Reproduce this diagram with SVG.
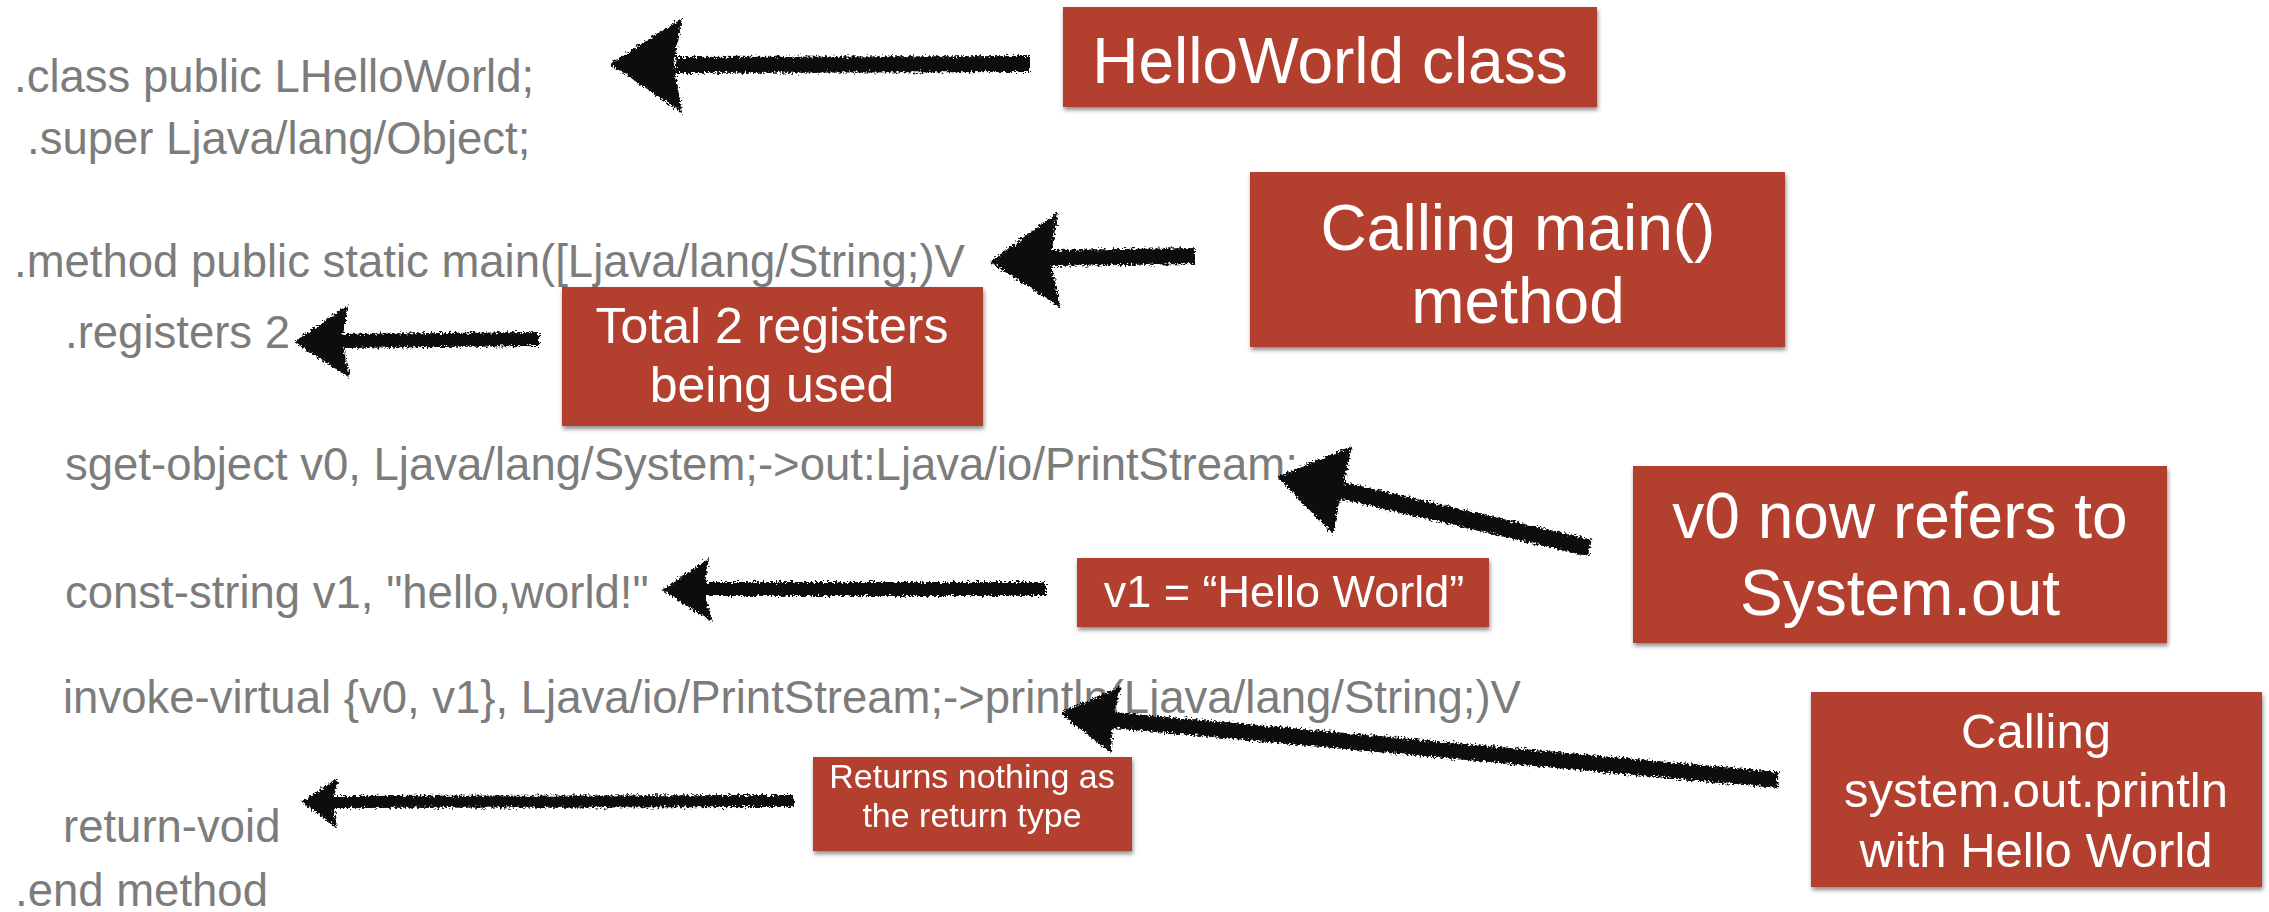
<svg xmlns="http://www.w3.org/2000/svg" width="2269" height="912" viewBox="0 0 2269 912">
<style>
.code{font-family:"Liberation Sans",Arial,Helvetica,sans-serif;font-size:45.5px;fill:#7c7c7c}
.box{fill:#b3412f}
.lbl{font-family:"Liberation Sans",Arial,Helvetica,sans-serif;fill:#ffffff;text-anchor:middle}
.shaft{fill:none;stroke:#0a0a0a;stroke-linecap:butt}
.head{fill:#0a0a0a}
</style>
<defs>
<filter id="rough" x="-10%" y="-30%" width="120%" height="160%">
<feTurbulence type="fractalNoise" baseFrequency="0.45" numOctaves="2" seed="3" result="n"/>
<feDisplacementMap in="SourceGraphic" in2="n" scale="8" xChannelSelector="R" yChannelSelector="G"/>
</filter>
<filter id="shadow" x="-5%" y="-10%" width="110%" height="130%">
<feDropShadow dx="1" dy="3" stdDeviation="2" flood-color="#000" flood-opacity="0.45"/>
</filter>
</defs>
<rect width="2269" height="912" fill="#ffffff"/>

<g id="code-class"><text class="code" x="14" y="92">.class public LHelloWorld;</text></g>
<g id="code-super"><text class="code" x="27" y="154">.super Ljava/lang/Object;</text></g>
<g id="code-method"><text class="code" x="14" y="277">.method public static main([Ljava/lang/String;)V</text></g>
<g id="code-registers"><text class="code" x="65" y="348">.registers 2</text></g>
<g id="code-sget"><text class="code" x="65" y="480">sget-object v0, Ljava/lang/System;-&gt;out:Ljava/io/PrintStream;</text></g>
<g id="code-const"><text class="code" x="65" y="608">const-string v1, "hello,world!"</text></g>
<g id="code-invoke"><text class="code" x="63" y="713">invoke-virtual {v0, v1}, Ljava/io/PrintStream;-&gt;println(Ljava/lang/String;)V</text></g>
<g id="code-return"><text class="code" x="63" y="842">return-void</text></g>
<g id="code-end"><text class="code" x="15" y="906">.end method</text></g>

<g id="connectors" filter="url(#rough)">
<!-- HelloWorld class -> .class -->
<path class="shaft" stroke-width="16" d="M676,65 L1030,64"/>
<path class="head" d="M610,64 L682,18 L674,64 L682,113 Z"/>
<!-- Calling main() -> .method -->
<path class="shaft" stroke-width="16" d="M1050,258 L1195,256"/>
<path class="head" d="M990,262 L1058,212 L1050,260 L1061,308 Z"/>
<!-- Total 2 registers -> .registers -->
<path class="shaft" stroke-width="14" d="M342,341 L539,339"/>
<path class="head" d="M294,342 L348,305 L342,341 L350,378 Z"/>
<!-- v0 -> sget -->
<path class="shaft" stroke-width="17" d="M1340,490 L1590,548"/>
<path class="head" d="M1277,477 L1352,446 L1342,490 L1333,534 Z"/>
<!-- v1 -> const -->
<path class="shaft" stroke-width="14" d="M704,589 L1046,589"/>
<path class="head" d="M662,590 L709,558 L704,590 L712,622 Z"/>
<!-- Calling system.out.println -> invoke -->
<path class="shaft" stroke-width="16" d="M1112,720 L1778,780"/>
<path class="head" d="M1060,713 L1121,686 L1113,720 L1111,753 Z"/>
<!-- Returns nothing -> return-void -->
<path class="shaft" stroke-width="12" d="M333,802 L794,801"/>
<path class="head" d="M302,802 L338,778 L333,802 L337,828 Z"/>
</g>

<g id="note-helloworld" filter="url(#shadow)">
<rect class="box" x="1063" y="7" width="534" height="100"/>
<text class="lbl" x="1330" y="83" font-size="64">HelloWorld class</text>
</g>
<g id="note-main" filter="url(#shadow)">
<rect class="box" x="1250" y="172" width="535" height="175"/>
<text class="lbl" x="1518" y="250" font-size="64">Calling main()</text>
<text class="lbl" x="1518" y="323" font-size="64">method</text>
</g>
<g id="note-registers" filter="url(#shadow)">
<rect class="box" x="562" y="287" width="421" height="139"/>
<text class="lbl" x="772" y="343" font-size="50">Total 2 registers</text>
<text class="lbl" x="772" y="402" font-size="50">being used</text>
</g>
<g id="note-v0" filter="url(#shadow)">
<rect class="box" x="1633" y="466" width="534" height="177"/>
<text class="lbl" x="1900" y="538" font-size="64">v0 now refers to</text>
<text class="lbl" x="1900" y="615" font-size="64">System.out</text>
</g>
<g id="note-v1" filter="url(#shadow)">
<rect class="box" x="1077" y="558" width="412" height="69"/>
<text class="lbl" x="1284" y="607" font-size="45">v1 = “Hello World”</text>
</g>
<g id="note-println" filter="url(#shadow)">
<rect class="box" x="1811" y="692" width="451" height="195"/>
<text class="lbl" x="2036" y="748" font-size="49">Calling</text>
<text class="lbl" x="2036" y="807" font-size="49">system.out.println</text>
<text class="lbl" x="2036" y="867" font-size="49">with Hello World</text>
</g>
<g id="note-returns" filter="url(#shadow)">
<rect class="box" x="813" y="757" width="319" height="94"/>
<text class="lbl" x="972" y="788" font-size="34">Returns nothing as</text>
<text class="lbl" x="972" y="827" font-size="34">the return type</text>
</g>
</svg>
